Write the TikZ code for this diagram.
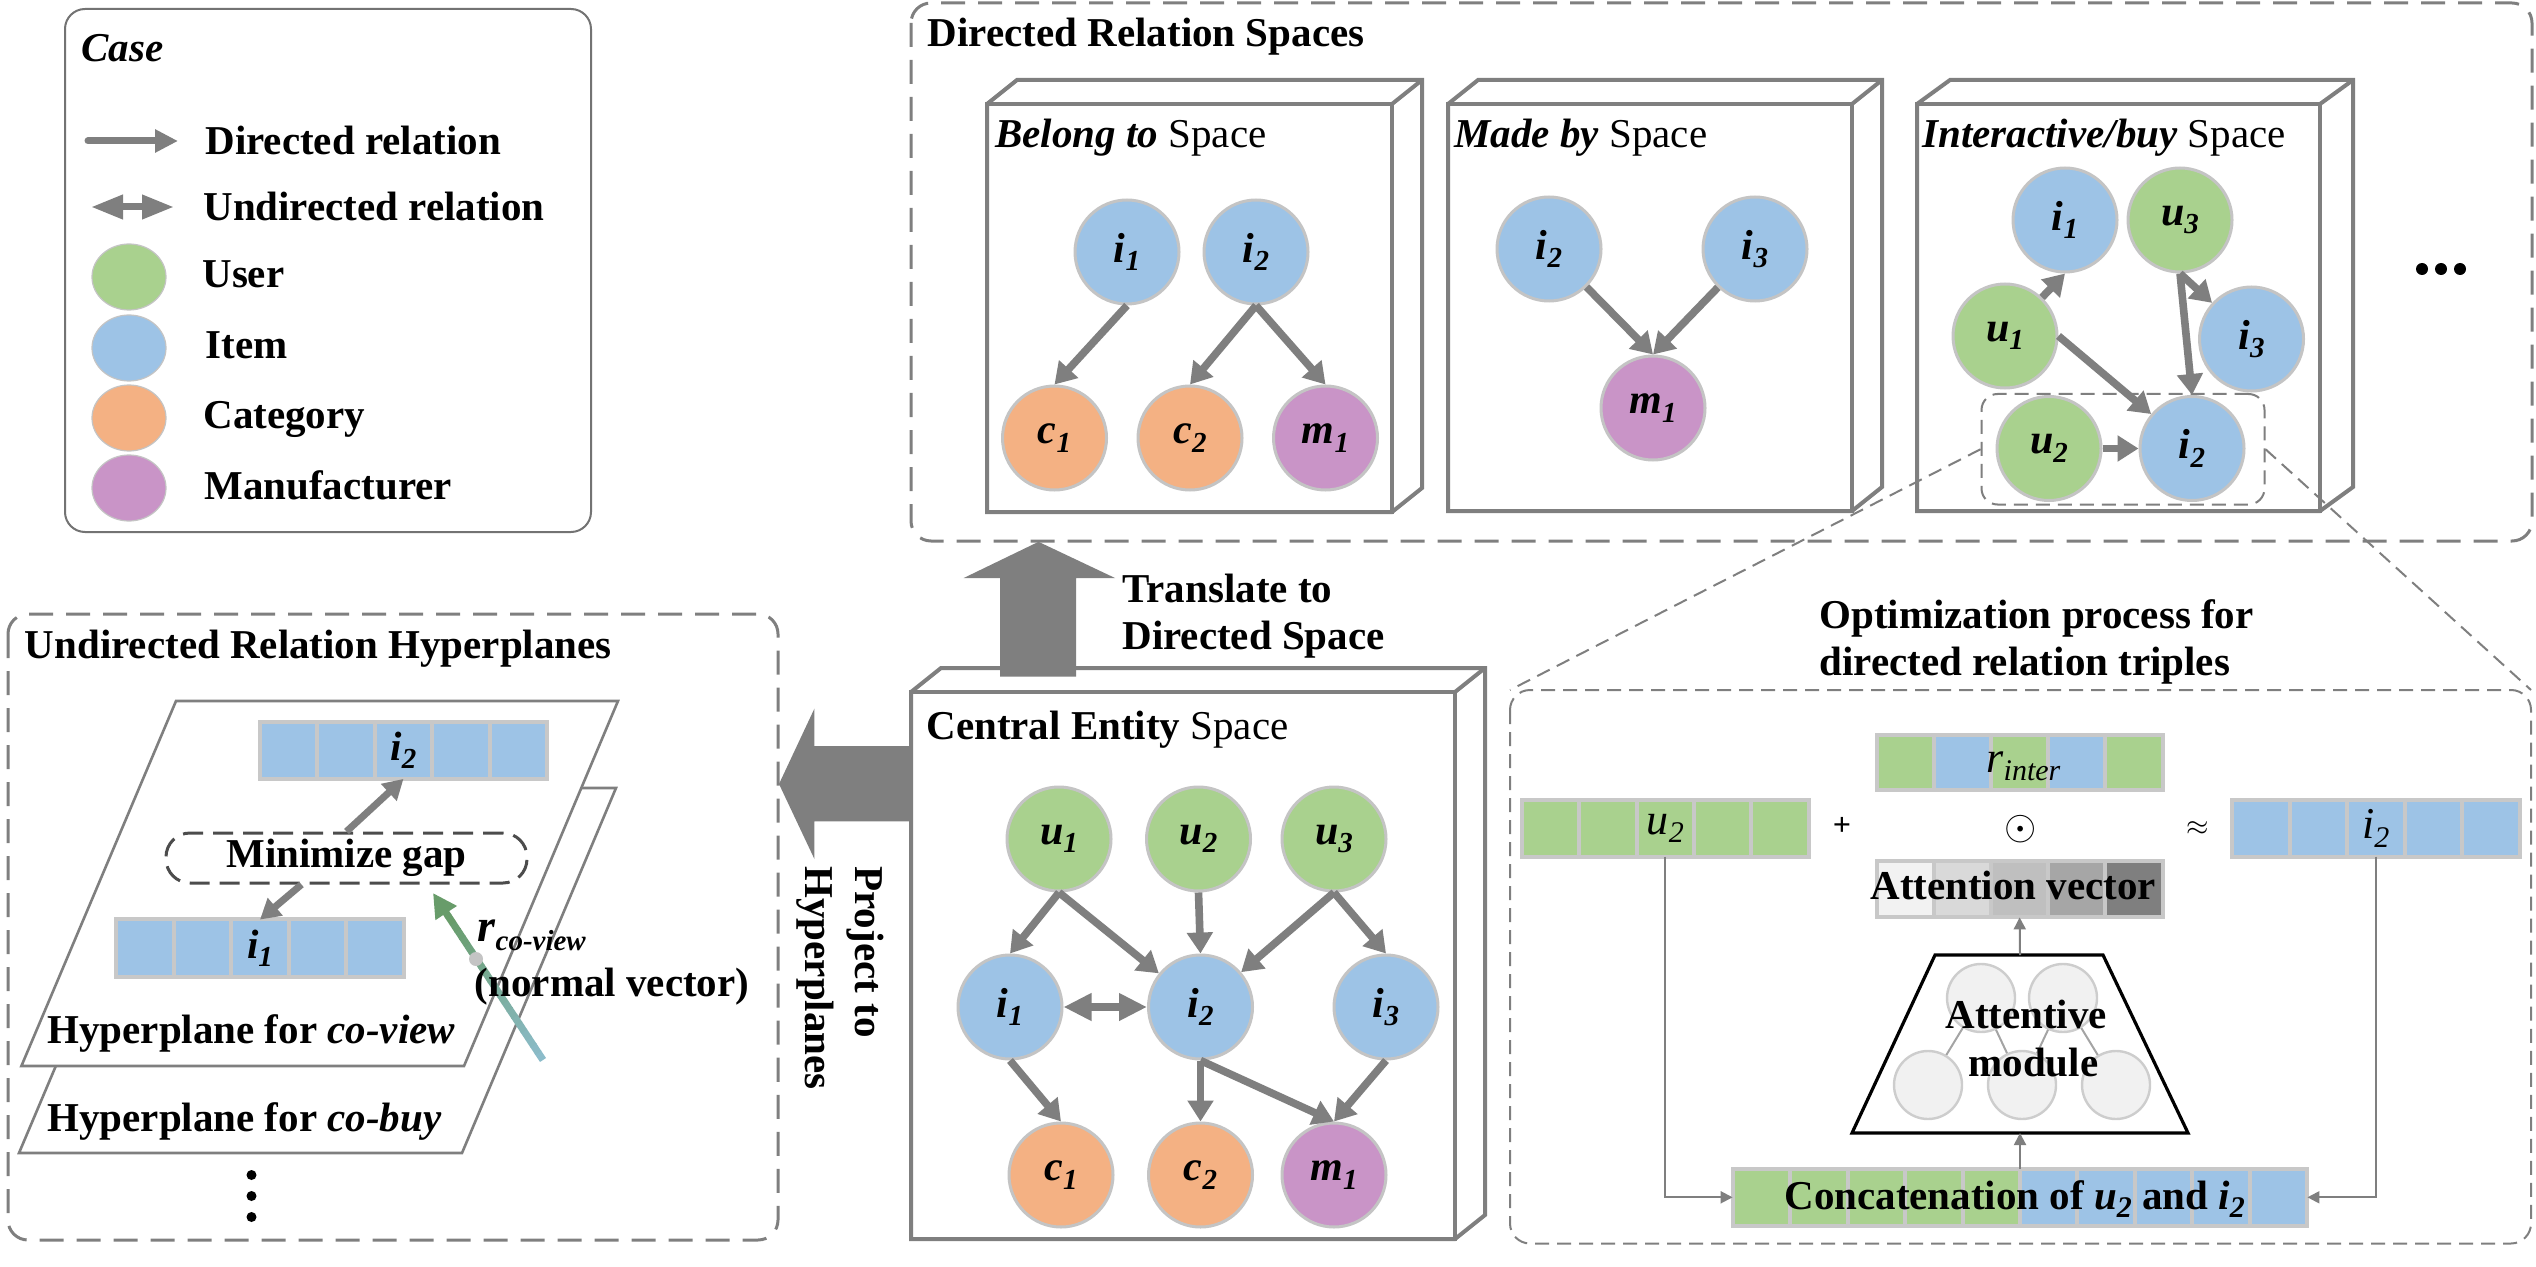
\documentclass[tikz,border=0pt]{standalone}
\usepackage{fontspec}
\setmainfont{Liberation Serif}
\usetikzlibrary{arrows.meta,calc,shapes.geometric}
\definecolor{ugreen}{RGB}{169,209,142}
\definecolor{iblue}{RGB}{157,195,230}
\definecolor{corange}{RGB}{244,177,131}
\definecolor{mpurple}{RGB}{201,148,199}
\definecolor{lgrey}{RGB}{127,127,127}
\definecolor{nbord}{RGB}{196,196,196}
\definecolor{cbord}{RGB}{200,200,200}
\definecolor{nvbot}{RGB}{140,188,202}
\definecolor{nvtop}{RGB}{104,156,106}
\definecolor{atA}{RGB}{242,242,242}
\definecolor{atB}{RGB}{217,217,217}
\definecolor{atC}{RGB}{191,191,191}
\definecolor{atD}{RGB}{166,166,166}
\definecolor{atE}{RGB}{127,127,127}
\definecolor{modfill}{RGB}{241,241,241}
\definecolor{modbord}{RGB}{205,205,205}
\newcommand\enl[2]{\textbf{\textit{#1}}\raisebox{-0.2em}{\fontsize{14.5}{16}\selectfont\textbf{\textit{#2}}}}
\newcommand\isub[2]{\textit{#1}\raisebox{-0.2em}{\fontsize{15}{16}\selectfont\textit{#2}}}
\newcommand\cubeat[5]{%
  \filldraw[cubeln,fill=white] (#1,#2) -- ({#1+#5},{#2-24}) -- ({#3+#5},{#2-24}) -- ({#3+#5},{#4-24}) -- (#3,#4) -- (#1,#4) -- cycle;
  \draw[cubeln] (#1,#2) rectangle (#3,#4);
  \draw[cubeln] (#3,#2) -- ({#3+#5},{#2-24});
}
\newcommand\cells[5]{%
  \foreach \cc [count=\k from 0] in {#5} {\draw[cellst,fill=\cc] ({#1+\k*#3},#2) rectangle ++(#3,#4);}}
\begin{document}
\begin{tikzpicture}[x=0.5pt,y=-0.5pt,
  every node/.style={font=\fontsize{20.5}{24}\selectfont},
  ent/.style={circle,draw=nbord,line width=1.5pt,minimum size=52pt,inner sep=0pt,font=\fontsize{21}{24}\selectfont},
  usr/.style={ent,fill=ugreen}, itm/.style={ent,fill=iblue}, cat/.style={ent,fill=corange}, mfr/.style={ent,fill=mpurple},
  rel/.style={draw=lgrey,line width=3.8pt,-{Triangle[length=10.5pt,width=12.5pt]}},
  urel/.style={draw=lgrey,line width=3.8pt,{Triangle[length=14pt,width=13pt]}-{Triangle[length=14pt,width=13pt]}},
  cubeln/.style={draw=lgrey,line width=2pt,line join=miter},
  bigdash/.style={draw=lgrey,line width=1.5pt,dash pattern=on 12pt off 6.5pt,rounded corners=10pt},
  smalldash/.style={draw=lgrey,line width=1pt,dash pattern=on 7pt off 4pt},
  cellst/.style={draw=cbord,line width=2pt},
  thinarr/.style={draw=lgrey,line width=1pt,-{Triangle[length=6pt,width=6pt]}},
  txt/.style={inner sep=0pt,anchor=base west},
  vecn/.style={inner sep=0pt,minimum width=143.5pt,minimum height=28pt},
  legc/.style={ellipse,minimum width=37pt,minimum height=33pt,inner sep=0pt,draw=nbord,line width=0.6pt},
  hplane/.style={draw=lgrey,line width=1.3pt,fill=white,line join=miter},
  blockarr/.style={fill=lgrey},
  dotc/.style={circle,fill=black,inner sep=0pt,minimum size=6pt},
]
\useasboundingbox (0,0) rectangle (2536,1267);

%% ---------------- Legend ----------------
\draw[draw=black!55,line width=1pt,rounded corners=10pt] (65,9) rectangle (591,532);
\node[txt] (lcase) at (81,62) {\textbf{\textit{Case}}};
\coordinate (la1) at (88,141); \coordinate (la2) at (178,141);
\draw[draw=lgrey,line width=3.5pt,line cap=round,-{Triangle[length=11.5pt,width=11pt]}] (la1) -- (la2);
\node[txt] (ldir) at (205,155) {\textbf{Directed relation}};
\coordinate (lb1) at (91,207); \coordinate (lb2) at (174,207);
\draw[draw=lgrey,line width=3.5pt,{Triangle[length=16pt,width=11.5pt]}-{Triangle[length=16pt,width=11.5pt]}] (lb1) -- (lb2);
\node[txt] (lund) at (203,220.4) {\textbf{Undirected relation}};
\node[legc,fill=ugreen] (lu) at (129,277) {};
\node[legc,fill=iblue] (li) at (129,348) {};
\node[legc,fill=corange] (lc) at (129,418) {};
\node[legc,fill=mpurple] (lm) at (129,488) {};
\node[txt] (tu) at (202,287.6) {\textbf{User}};
\node[txt] (ti) at (205,358) {\textbf{Item}};
\node[txt] (tc) at (203,428.8) {\textbf{Category}};
\node[txt] (tm) at (204,499.4) {\textbf{Manufacturer}};

%% ---------------- Directed Relation Spaces ----------------
\draw[bigdash] (911,3) rectangle (2532,541);
\node[txt] (tdrs) at (927.5,46.5) {\textbf{Directed Relation Spaces}};

% Belong to
\cubeat{987}{104}{1392}{512}{30}
\node[txt] (tbel) at (995,148) {\textbf{\textit{Belong to}} Space};
\node[itm] (bi1) at (1127,252) {\enl{i}{1}};
\node[itm] (bi2) at (1256,252) {\enl{i}{2}};
\node[cat] (bc1) at (1054.5,438) {\enl{c}{1}};
\node[cat] (bc2) at (1190,438) {\enl{c}{2}};
\node[mfr] (bm1) at (1325.5,438) {\enl{m}{1}};
\draw[rel] (bi1.south) -- (bc1.north);
\draw[rel] (bi2.south) -- (bc2.north);
\draw[rel] (bi2.south) -- (bm1.north);

% Made by
\cubeat{1448}{104}{1852}{511}{30}
\node[txt] (tmad) at (1454,148) {\textbf{\textit{Made by}} Space};
\node[itm] (mi2) at (1549,249) {\enl{i}{2}};
\node[itm] (mi3) at (1755,249) {\enl{i}{3}};
\node[mfr] (mm1) at (1653,408) {\enl{m}{1}};
\draw[rel] (mi2) -- (mm1.north);
\draw[rel] (mi3) -- (mm1.north);

% Interactive/buy
\cubeat{1917}{104}{2320}{511}{33}
\node[txt] (tint) at (1922,148) {\textbf{\textit{Interactive/buy}} Space};
\node[itm] (ii1) at (2065,220) {\enl{i}{1}};
\node[usr] (iu3) at (2180,220) {\enl{u}{3}};
\node[usr] (iu1) at (2005,336) {\enl{u}{1}};
\node[itm] (ii3) at (2251.5,339) {\enl{i}{3}};
\node[usr] (iu2) at (2049,448.5) {\enl{u}{2}};
\node[itm] (ii2) at (2192,448.5) {\enl{i}{2}};
\draw[rel] (iu1) -- (ii1.south);
\draw[rel] (iu3.south) -- (ii3);
\draw[rel] (iu3.south) -- (ii2.north);
\draw[rel] (iu1.east) -- (ii2);
\draw[rel] (iu2) -- (ii2);
\node[smalldash,draw,rounded corners=8pt,minimum width=141.5pt,minimum height=55.25pt,inner sep=0pt] (zrect) at (2123,449.25) {};

\node[dotc] (d1) at (2422,269) {};
\node[dotc] (d2) at (2441,269) {};
\node[dotc] (d3) at (2460,269) {};

%% ---------------- Central Entity Space ----------------
\cubeat{911}{692}{1455}{1239}{30}
\node[txt] (tcen) at (926,739) {\textbf{Central Entity} Space};
\node[usr] (cu1) at (1059,839) {\enl{u}{1}};
\node[usr] (cu2) at (1198.5,839) {\enl{u}{2}};
\node[usr] (cu3) at (1334,839) {\enl{u}{3}};
\node[itm] (ci1) at (1010,1007) {\enl{i}{1}};
\node[itm] (ci2) at (1200.5,1007) {\enl{i}{2}};
\node[itm] (ci3) at (1386,1007) {\enl{i}{3}};
\node[cat] (cc1) at (1061,1175) {\enl{c}{1}};
\node[cat] (cc2) at (1200.5,1175) {\enl{c}{2}};
\node[mfr] (cm1) at (1334,1175) {\enl{m}{1}};
\draw[rel] (cu1.south) -- (ci1.north);
\draw[rel] (cu1.south) -- (ci2);
\draw[rel] (cu2.south) -- (ci2.north);
\draw[rel] (cu3.south) -- (ci2);
\draw[rel] (cu3.south) -- (ci3.north);
\draw[urel] (ci1) -- (ci2);
\draw[rel] (ci1.south) -- (cc1.north);
\draw[rel] (ci2.south) -- (cc2.north);
\draw[rel] (ci2.south) -- (cm1.north);
\draw[rel] (ci3.south) -- (cm1.north);

% Translate arrow
\fill[blockarr] (1000,676.6) -- (1000,578) -- (963.7,578) -- (1038.5,541.8) -- (1115,578) -- (1076,578) -- (1076,676.6) -- cycle;
\node[txt] (ttr1) at (1122,602.9) {\textbf{Translate to}};
\node[txt] (ttr2) at (1122,649.9) {\textbf{Directed Space}};

% Project arrow
\fill[blockarr] (911,746) -- (814.4,746) -- (814.4,708.6) -- (779,784) -- (814.4,859) -- (814.4,821.4) -- (911,821.4) -- cycle;
\node[rotate=-90,anchor=base west,inner sep=0pt] (tpr1) at (855.8,866) {\textbf{Project to}};
\node[rotate=-90,anchor=base west,inner sep=0pt] (tpr2) at (805,866) {\textbf{Hyperplanes}};

%% ---------------- Undirected Relation Hyperplanes ----------------
\draw[bigdash] (8,614) rectangle (778,1240);
\node[txt] (tund) at (24.5,658) {\textbf{Undirected Relation Hyperplanes}};
\draw[hplane] (173.5,788) -- (616,788) -- (462,1153) -- (19,1153) -- cycle;
\draw[hplane] (176,701) -- (618,701) -- (464,1066) -- (21.4,1066) -- cycle;
\cells{260}{722}{57.4}{57}{iblue,iblue,iblue,iblue,iblue}
\cells{116}{919}{57.6}{58}{iblue,iblue,iblue,iblue,iblue}
\node[vecn] (hv2) at (403.5,750.5) {\enl{i}{2}};
\node[vecn] (hv1) at (260,948) {\enl{i}{1}};
\node[draw=black!70,line width=1.5pt,dash pattern=on 10pt off 5pt,rounded corners=12pt,minimum width=180.5pt,minimum height=25pt,inner sep=0pt] (mg) at (346.5,858) {\textbf{Minimize gap}};
\draw[draw=lgrey,line width=3.5pt,-{Triangle[length=10pt,width=11pt]}] (mg.north) -- (hv2.south);
\draw[draw=lgrey,line width=3.5pt,-{Triangle[length=10pt,width=11pt]}] ($(mg.south)+(-45,0)$) -- (hv1.north);
\node[txt] (thp1) at (47,1043) {\textbf{Hyperplane for \textit{co-view}}};
\node[txt] (thp2) at (47,1131) {\textbf{Hyperplane for \textit{co-buy}}};
% normal vector
\coordinate (nvA) at (543,1060);
\coordinate (nvB) at (433,893);
\foreach \k in {0,...,19} {
  \pgfmathtruncatemacro\pc{100*\k/19}
  \pgfmathsetmacro\fa{\k/20*0.86}
  \pgfmathsetmacro\fb{(\k+1)/20*0.86+0.004}
  \draw[line width=3.6pt,draw=nvtop!\pc!nvbot] ($(nvA)!\fa!(nvB)$) -- ($(nvA)!\fb!(nvB)$);
}
\draw[draw=nvtop,line width=3.6pt,-{Triangle[length=12pt,width=12pt]}] ($(nvA)!0.86!(nvB)$) -- (nvB);
\node[circle,fill=nbord,inner sep=0pt,minimum size=7pt] (nvdot) at (476,959) {};
\node[txt] (trcv) at (477,941) {\fontsize{23}{26}\selectfont\textbf{\textit{r}}\raisebox{-0.2em}{\fontsize{14.5}{16}\selectfont\textbf{\textit{co-view}}}};
\node[txt] (tnv) at (474.5,996.6) {\textbf{(normal vector)}};
\node[circle,fill=black,inner sep=0pt,minimum size=5pt] (vd1) at (251.5,1175) {};
\node[circle,fill=black,inner sep=0pt,minimum size=5pt] (vd2) at (251.5,1196) {};
\node[circle,fill=black,inner sep=0pt,minimum size=5pt] (vd3) at (251.5,1217) {};

%% ---------------- Optimization process ----------------
\draw[smalldash,rounded corners=10pt] (1510,690) rectangle (2531,1243.5);
\coordinate (optTL) at (1510,690);
\coordinate (optTR) at (2531,690);
\draw[smalldash] (zrect.west) -- (optTL);
\draw[smalldash] (zrect.east) -- (optTR);
\node[txt] (top1) at (1819,628.7) {\textbf{Optimization process for}};
\node[txt] (top2) at (1819,675.7) {\textbf{directed relation triples}};

\cells{1876.6}{734.5}{57.2}{55}{ugreen,iblue,ugreen,iblue,ugreen}
\node[txt] (trin) at (1986,772) {\fontsize{22}{24}\selectfont\isub{r}{inter}};
\cells{1522}{800}{57.3}{56.6}{ugreen,ugreen,ugreen,ugreen,ugreen}
\node[vecn] (ou2) at (1665.25,828.3) {\fontsize{22}{24}\selectfont\isub{u}{2}};
\cells{2232}{800}{57.5}{56.6}{iblue,iblue,iblue,iblue,iblue}
\node[vecn] (oi2) at (2375.75,828.3) {\fontsize{22}{24}\selectfont\isub{i}{2}};
\node (oplus) at (1842,826) {\fontsize{16}{18}\selectfont\textbf{+}};
\node (oodot) at (2020.6,829) {\fontsize{20}{22}\selectfont$\odot$};
\node (oapx) at (2198,829) {\fontsize{14}{16}\selectfont$\approx$};
\cells{1876.6}{861}{57.2}{56}{atA,atB,atC,atD,atE}
\node[vecn] (oatt) at (2019.6,889) {};
\node[txt] (tatt) at (1870,899) {\textbf{Attention vector}};

% attentive module
\coordinate (tzT) at (2020,955);
\coordinate (tzB) at (2020,1133);
\draw[black,line width=1.6pt,line join=miter] (1935,955) -- (2103,955) -- (2188,1133) -- (1852,1133) -- cycle;
\coordinate (mA) at (1981,998); \coordinate (mB) at (2063,998);
\coordinate (mC) at (1928,1085); \coordinate (mD) at (2022,1085); \coordinate (mE) at (2116,1085);
\draw[modbord!80!black,line width=1pt] (mA) -- (mC) (mA) -- (mD) (mB) -- (mD) (mB) -- (mE);
\foreach \p in {mA,mB,mC,mD,mE} {\fill[modfill] (\p) circle (17pt); \draw[modbord,line width=1.2pt] (\p) circle (17pt);}
\node[txt] (tam1) at (1945,1028) {\textbf{Attentive}};
\node[txt] (tam2) at (1968,1076) {\textbf{module}};
\draw[thinarr] (tzT) -- (oatt.south);

\cells{1733}{1169}{57.4}{56.6}{ugreen,ugreen,ugreen,ugreen,ugreen,iblue,iblue,iblue,iblue,iblue}
\node[inner sep=0pt,minimum width=287pt,minimum height=28.3pt] (ocat) at (2020,1197.3) {};
\node[txt] (tcat) at (1784,1209) {\textbf{Concatenation of \textit{u}\raisebox{-0.2em}{\fontsize{15}{16}\selectfont\textit{2}} and \textit{i}\raisebox{-0.2em}{\fontsize{15}{16}\selectfont\textit{2}}}};
\draw[thinarr] (ocat.north) -- (tzB);
\draw[thinarr] (ou2.south) |- (ocat.west);
\draw[thinarr] (oi2.south) |- (ocat.east);
\end{tikzpicture}
\end{document}
